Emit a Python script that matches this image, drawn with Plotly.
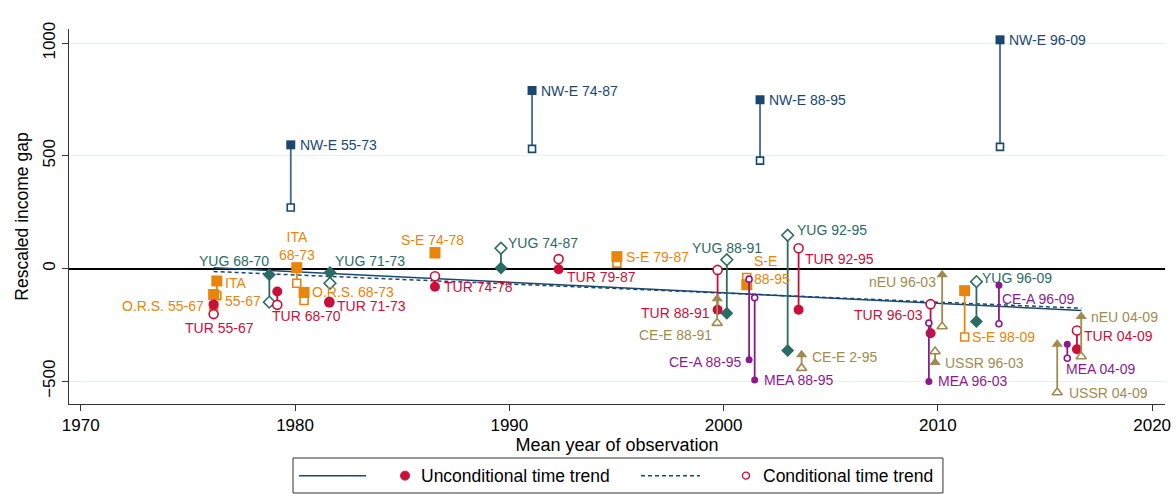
import plotly.graph_objects as go

# --- data --------------------------------------------------------------------
labels = [
    "NW-E 55-73", "NW-E 74-87", "NW-E 88-95", "NW-E 96-09",
    "YUG 68-70", "ITA 68-73", "O.R.S. 68-73", "YUG 71-73", "TUR 68-70",
    "TUR 71-73", "ITA 55-67", "O.R.S. 55-67", "TUR 55-67",
    "S-E 74-78", "TUR 74-78", "YUG 74-87", "TUR 79-87", "S-E 79-87",
    "YUG 88-91", "TUR 88-91", "CE-E 88-91", "S-E 88-95", "CE-A 88-95",
    "MEA 88-95", "YUG 92-95", "TUR 92-95", "CE-E 2-95",
    "TUR 96-03", "MEA 96-03", "USSR 96-03", "nEU 96-03", "S-E 98-09",
    "YUG 96-09", "CE-A 96-09", "USSR 04-09", "MEA 04-09", "TUR 04-09",
    "nEU 04-09",
]
mean_year = [
    1979.8, 1991.06, 2001.7, 2012.9,
    1978.8, 1980.08, 1980.42, 1981.63, 1979.17,
    1981.6, 1976.35, 1976.2, 1976.2,
    1986.53, 1986.53, 1989.61, 1992.3, 1995.02,
    2000.15, 1999.72, 1999.7, 2001.08, 2001.19,
    2001.45, 2002.99, 2003.5, 2003.64,
    2009.66, 2009.58, 2009.87, 2010.2, 2011.25,
    2011.8, 2012.85, 2015.57, 2016.04, 2016.49,
    2016.69,
]
gap_uncond = [
    549, 790, 749, 1015,
    -28, 4, -106, -18, -102,
    -151, -55, -115, -160,
    71, -81, 2, -3, 53,
    -198, -183, -134, -72, -405,
    -494, -364, -183, -383,
    -287, -501, -417, -28, -98,
    -235, -74, -336, -336, -358,
    -213,
]
gap_cond = [
    271, 531, 479, 540,
    -149, -65, -142, -65, -161,
    -148, -120, -165, -202,
    66, -34, 90, 42, 24,
    39, -6, -242, -40, -47,
    -129, 148, 90, -442,
    -158, -242, -368, -257, -304,
    -58, -245, -550, -398, -275,
    -390,
]

trend_year = [1976.2, 2016.7]
trend_uncond = [4, -186]
trend_cond = [-13, -176]

# --- styling -------------------------------------------------------------------
FONT = "Liberation Sans, Arial, sans-serif"
NAVY = "#1a476f"
TEAL = "#2c6b64"
ORANGE = "#e8850c"
RED = "#c8103b"
KHAKI = "#a08b4e"
PURPLE = "#8c1a8b"
DASH = "4px,3px"

group_style = {
    "NW-E": dict(color=NAVY, line="#41698f", symbol="square", size=9, hsize=7),
    "YUG": dict(color=TEAL, line=TEAL, symbol="diamond", size=10, hsize=9),
    "ITA": dict(color=ORANGE, line=ORANGE, symbol="square", size=11, hsize=8),
    "O.R.S.": dict(color=ORANGE, line=ORANGE, symbol="square", size=11, hsize=8),
    "S-E": dict(color=ORANGE, line=ORANGE, symbol="square", size=11, hsize=8),
    "TUR": dict(color=RED, line=RED, symbol="circle", size=10, hsize=9),
    "CE-E": dict(color=KHAKI, line=KHAKI, symbol="triangle-up", size=10, hsize=9),
    "nEU": dict(color=KHAKI, line=KHAKI, symbol="triangle-up", size=10, hsize=9),
    "USSR": dict(color=KHAKI, line=KHAKI, symbol="triangle-up", size=10, hsize=9),
    "CE-A": dict(color=PURPLE, line=PURPLE, symbol="circle", size=7, hsize=6),
    "MEA": dict(color=PURPLE, line=PURPLE, symbol="circle", size=7, hsize=6),
}

# label placement: (anchor marker u/c, xanchor, xshift, yshift, text)
label_pos = {
    "NW-E 55-73": ("u", "left", 7, 0, None),
    "NW-E 74-87": ("u", "left", 7, 0, None),
    "NW-E 88-95": ("u", "left", 7, 0, None),
    "NW-E 96-09": ("u", "left", 7, 0, None),
    "YUG 68-70": ("u", "right", 2, 14, None),
    "ITA 68-73": ("u", "center", 0, 22, "ITA<br>68-73"),
    "O.R.S. 68-73": ("u", "left", 6, 0, None),
    "YUG 71-73": ("u", "left", 3, 12, None),
    "TUR 68-70": ("c", "left", -7, -11, None),
    "TUR 71-73": ("u", "left", 6, -3, None),
    "ITA 55-67": ("u", "left", 6, -11, "ITA<br>55-67"),
    "O.R.S. 55-67": ("c", "right", -8, 0, None),
    "TUR 55-67": ("c", "center", 6, -14, None),
    "S-E 74-78": ("u", "center", -2, 13, None),
    "TUR 74-78": ("u", "left", 7, 0, None),
    "YUG 74-87": ("c", "left", 5, 5, None),
    "TUR 79-87": ("u", "left", 6, -8, None),
    "S-E 79-87": ("u", "left", 7, 0, None),
    "YUG 88-91": ("c", "center", 0, 12, None),
    "TUR 88-91": ("u", "right", -6, -3, None),
    "CE-E 88-91": ("c", "right", -3, -12, None),
    "S-E 88-95": ("u", "left", 5, 15, "S-E<br>88-95"),
    "CE-A 88-95": ("u", "right", -5, -2, None),
    "MEA 88-95": ("u", "left", 7, 0, None),
    "YUG 92-95": ("c", "left", 7, 5, None),
    "TUR 92-95": ("c", "left", 4, -11, None),
    "CE-E 2-95": ("u", "left", 8, -2, None),
    "TUR 96-03": ("c", "right", -6, -11, None),
    "MEA 96-03": ("u", "left", 7, 0, None),
    "USSR 96-03": ("u", "left", 8, 0, None),
    "nEU 96-03": ("u", "right", -4, -7, None),
    "S-E 98-09": ("c", "left", 5, 0, None),
    "YUG 96-09": ("c", "left", 4, 4, None),
    "CE-A 96-09": ("u", "left", 1, -14, None),
    "USSR 04-09": ("c", "left", 10, 0, None),
    "MEA 04-09": ("c", "left", -3, -11, None),
    "TUR 04-09": ("c", "left", 5, -5, None),
    "nEU 04-09": ("u", "left", 8, 0, None),
}

fig = go.Figure()

# trend lines
fig.add_trace(go.Scatter(x=trend_year, y=trend_uncond, mode="lines",
                         line=dict(color=NAVY, width=1.5), hoverinfo="skip"))
fig.add_trace(go.Scatter(x=trend_year, y=trend_cond, mode="lines",
                         line=dict(color=NAVY, width=1.5, dash=DASH), hoverinfo="skip"))

annotations = []
for i, lab in enumerate(labels):
    g = lab.split()[0]
    st = group_style[g]
    x, yu, yc = mean_year[i], gap_uncond[i], gap_cond[i]
    # connecting spike
    fig.add_trace(go.Scatter(x=[x, x], y=[yu, yc], mode="lines",
                             line=dict(color=st["line"], width=1.8), hoverinfo="skip"))
    # conditional (hollow)
    fig.add_trace(go.Scatter(x=[x], y=[yc], mode="markers",
                             marker=dict(symbol=st["symbol"], size=st["hsize"], color="white",
                                         line=dict(color=st["color"], width=1.6))))
    # unconditional (filled)
    fig.add_trace(go.Scatter(x=[x], y=[yu], mode="markers",
                             marker=dict(symbol=st["symbol"], size=st["size"], color=st["color"],
                                         line=dict(width=0))))
    anc, xa, xs, ys, txt = label_pos[lab]
    annotations.append(dict(
        x=x, y=yu if anc == "u" else yc, xref="x", yref="y",
        text=txt or lab, showarrow=False, xanchor=xa, yanchor="middle",
        xshift=xs, yshift=ys, align="left" if xa == "left" else "center",
        font=dict(family=FONT, size=14, color=st["color"]),
    ))

# manual legend below the plot
LEG_Y = -0.191
shapes = [
    dict(type="rect", xref="paper", yref="paper", x0=0.2044, x1=0.7974, y0=-0.2373, y1=-0.144,
         line=dict(color="#333333", width=1)),
    dict(type="line", xref="paper", yref="paper", x0=0.2099, x1=0.2710, y0=LEG_Y, y1=LEG_Y,
         line=dict(color=NAVY, width=1.5)),
    dict(type="line", xref="paper", yref="paper", x0=0.5219, x1=0.5757, y0=LEG_Y, y1=LEG_Y,
         line=dict(color=NAVY, width=1.5, dash=DASH)),
    dict(type="circle", xref="paper", yref="paper", xsizemode="pixel", ysizemode="pixel",
         xanchor=0.3066, yanchor=LEG_Y, x0=-4.5, x1=4.5, y0=-4.5, y1=4.5,
         fillcolor=RED, line=dict(color=RED, width=1)),
    dict(type="circle", xref="paper", yref="paper", xsizemode="pixel", ysizemode="pixel",
         xanchor=0.6177, yanchor=LEG_Y, x0=-3.5, x1=3.5, y0=-3.5, y1=3.5,
         fillcolor="white", line=dict(color=RED, width=1.4)),
]
annotations += [
    dict(x=0.3193, y=LEG_Y, xref="paper", yref="paper", text="Unconditional time trend",
         showarrow=False, xanchor="left", yanchor="middle",
         font=dict(family=FONT, size=17.5, color="#000000")),
    dict(x=0.6314, y=LEG_Y, xref="paper", yref="paper", text="Conditional time trend",
         showarrow=False, xanchor="left", yanchor="middle",
         font=dict(family=FONT, size=17.5, color="#000000")),
]

fig.update_layout(
    width=1173, height=494,
    margin=dict(l=69, r=8, t=29, b=90),
    paper_bgcolor="white", plot_bgcolor="white",
    showlegend=False,
    font=dict(family=FONT, size=16, color="#000000"),
    annotations=annotations, shapes=shapes,
)
fig.update_xaxes(
    range=[1969.45, 2020.6], dtick=10, tick0=1970, automargin=False,
    showgrid=False, zeroline=False,
    showline=True, linecolor="#333333", linewidth=1,
    ticks="outside", ticklen=6, tickcolor="#333333",
    tickfont=dict(size=17),
    title=dict(text="Mean year of observation", font=dict(size=18), standoff=3),
)
fig.update_yaxes(
    range=[-601, 1063], dtick=500, tick0=0, automargin=False,
    showgrid=True, gridcolor="#e8f0f2", gridwidth=1,
    zeroline=True, zerolinecolor="#000000", zerolinewidth=1.5,
    showline=True, linecolor="#333333", linewidth=1,
    ticks="outside", ticklen=6, tickcolor="#333333",
    tickangle=-90, tickfont=dict(size=17),
    title=dict(text="Rescaled income gap", font=dict(size=17.5), standoff=7),
)

# page body has a default margin; drop it so the figure fills the window exactly
fig.write_html("out.html", config={"displayModeBar": False},
               post_script="document.body.style.margin='0';")
